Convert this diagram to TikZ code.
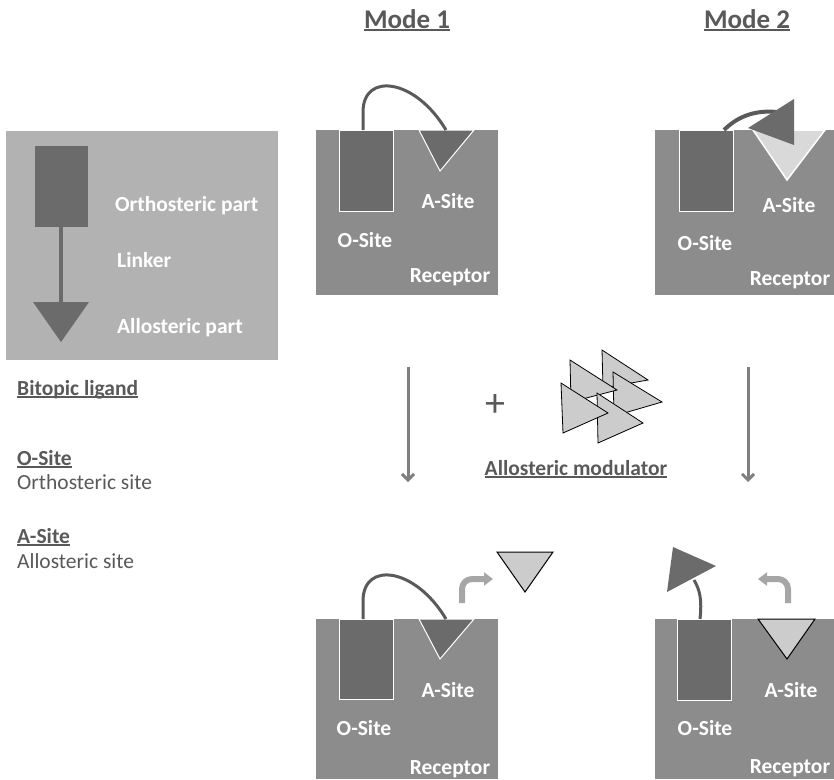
\documentclass[tikz,border=0pt]{standalone}
\usepackage{fontspec}
\setmainfont{Carlito}
\usetikzlibrary{arrows.meta}
\definecolor{rec}{HTML}{8C8C8C}
\definecolor{dark}{HTML}{6B6B6B}
\definecolor{leg}{HTML}{B2B2B2}
\definecolor{lig}{HTML}{CCCCCC}
\definecolor{ligb}{HTML}{D9D9D9}
\definecolor{txt}{HTML}{595959}
\definecolor{curv}{HTML}{5A5A5A}
\definecolor{bent}{HTML}{A6A6A6}
\definecolor{varr}{HTML}{7F7F7F}
\newcommand\ulx[1]{\setbox0=\hbox{#1}\rlap{\rule[-2.5pt]{\wd0}{1.5pt}}\box0}
\begin{document}
\begin{tikzpicture}[x=1pt,y=-1pt,
  lbl/.style={text=white,font=\fontsize{21.5}{24}\selectfont\bfseries,inner sep=0,anchor=base},
  head/.style={text=txt,font=\fontsize{27}{30}\selectfont\bfseries,inner sep=0,anchor=base},
  side/.style={text=txt,font=\fontsize{21.5}{24}\selectfont,inner sep=0,anchor=base west},
  recbox/.style={fill=rec},
  osite/.style={fill=dark,draw=white,line width=1},
  asite/.style={fill=dark,draw=white,line width=1},
  freetri/.style={fill=lig,draw=black,line width=1},
  modtri/.style={fill=lig,draw=black,line width=0.8},
  linker/.style={draw=curv,line width=3},
  bentarrow/.style={draw=bent,line width=6,rounded corners=10,-{Triangle[length=9pt,width=13pt]}},
  varrow/.style={draw=varr,line width=3,-{Straight Barb[length=6pt,width=12pt]}}]
\useasboundingbox (0,0) rectangle (834,779);

% headings
\node[head] (mode1) at (407,28) {\ulx{Mode 1}};
\node[head] (mode2) at (747,28) {\ulx{Mode 2}};

% legend
\fill[leg] (6,131) rectangle (278,360);
\fill[dark] (35,146) rectangle (88,227);
\draw[dark,line width=4] (61,227) -- (61,303);
\fill[dark] (33,302) -- (89,302) -- (61,342) -- cycle;
\node[lbl,anchor=base west] (orth) at (115,211) {Orthosteric part};
\node[lbl,anchor=base west] (link) at (117,267) {Linker};
\node[lbl,anchor=base west] (allo) at (117,333) {Allosteric part};

% side texts
\node[side,font=\fontsize{21.5}{24}\selectfont\bfseries] (bit) at (17,395) {\ulx{Bitopic ligand}};
\node[side,font=\fontsize{21.5}{24}\selectfont\bfseries] (os) at (17,465) {\ulx{O-Site}};
\node[side] (osd) at (17,489) {Orthosteric site};
\node[side,font=\fontsize{21.5}{24}\selectfont\bfseries] (as) at (17,543) {\ulx{A-Site}};
\node[side] (asd) at (17,568) {Allosteric site};

% ---- Mode 1 top
\fill[recbox] (316,130) rectangle (498,295);
\draw[osite] (339,130) rectangle (393,211);
\draw[asite] (419,130) -- (474,130) -- (440,171) -- cycle;
\draw[linker] (363,130) -- (363,112) .. controls (363,72) and (415,78) .. (446,130);
\node[lbl] (a1) at (448,208) {A-Site};
\node[lbl] (o1) at (365,247) {O-Site};
\node[lbl] (r1) at (450,282) {Receptor};

% ---- Mode 2 top
\fill[recbox] (655,130) rectangle (834,295);
\draw[osite] (679,130) rectangle (733,211);
\draw[fill=ligb,draw=white,line width=1.5] (753,130) -- (825,130) -- (787,180) -- cycle;
\draw[linker,line width=4] (724,130) .. controls (738,116) and (756,110) .. (776,112);
\fill[dark] (794,99) -- (794,145) -- (748,128) -- cycle;
\node[lbl] (a2) at (789,212) {A-Site};
\node[lbl] (o2) at (705,250) {O-Site};
\node[lbl] (r2) at (790,285) {Receptor};

% ---- vertical arrows
\coordinate (v1s) at (408,367);
\coordinate (v1e) at (408,482);
\coordinate (v2s) at (748,367);
\coordinate (v2e) at (748,482);
\draw[varrow] (v1s) -- (v1e);
\draw[varrow] (v2s) -- (v2e);

% ---- modulator
\node[text=txt,font=\fontsize{40}{40}\selectfont,inner sep=0] (plus) at (495,405) {+};
\draw[modtri] (602,350) -- (648,380) -- (603,388) -- cycle;
\draw[modtri] (613,372) -- (662,402) -- (614,416) -- cycle;
\draw[modtri] (570,360) -- (617,390) -- (571,402) -- cycle;
\draw[modtri] (597,393) -- (643,423) -- (598,443) -- cycle;
\draw[modtri] (561,383) -- (608,413) -- (563,433) -- cycle;
\node[text=txt,font=\fontsize{21.5}{24}\selectfont\bfseries,inner sep=0,anchor=base] (modl) at (576,475) {\ulx{Allosteric modulator}};

% ---- Mode 1 bottom
\fill[recbox] (316,619) rectangle (498,779);
\draw[osite] (339,619) rectangle (393,699);
\draw[asite] (419,619) -- (474,619) -- (440,659) -- cycle;
\draw[linker] (363,619) -- (363,601) .. controls (363,561) and (415,567) .. (446,619);
\coordinate (b1s) at (462,603);
\coordinate (b1c) at (462,579);
\coordinate (b1e) at (493,579);
\draw[bentarrow] (b1s) -- (b1c) -- (b1e);
\draw[freetri] (497,552) -- (553,552) -- (525,592) -- cycle;
\node[lbl] (a3) at (448,697) {A-Site};
\node[lbl] (o3) at (364,735) {O-Site};
\node[lbl] (r3) at (450,774) {Receptor};

% ---- Mode 2 bottom
\fill[recbox] (655,619) rectangle (834,779);
\draw[osite] (677,619) rectangle (731,700);
\draw[freetri] (758,619) -- (815,619) -- (787,659) -- cycle;
\draw[linker] (700,619) .. controls (702,600) and (700,590) .. (694,580);
\fill[dark] (673,547) -- (667,592) -- (716,566) -- cycle;
\coordinate (b2s) at (788,603);
\coordinate (b2c) at (788,579);
\coordinate (b2e) at (758,579);
\draw[bentarrow] (b2s) -- (b2c) -- (b2e);
\node[lbl] (a4) at (791,697) {A-Site};
\node[lbl] (o4) at (705,735) {O-Site};
\node[lbl] (r4) at (790,773) {Receptor};
\end{tikzpicture}
\end{document}
